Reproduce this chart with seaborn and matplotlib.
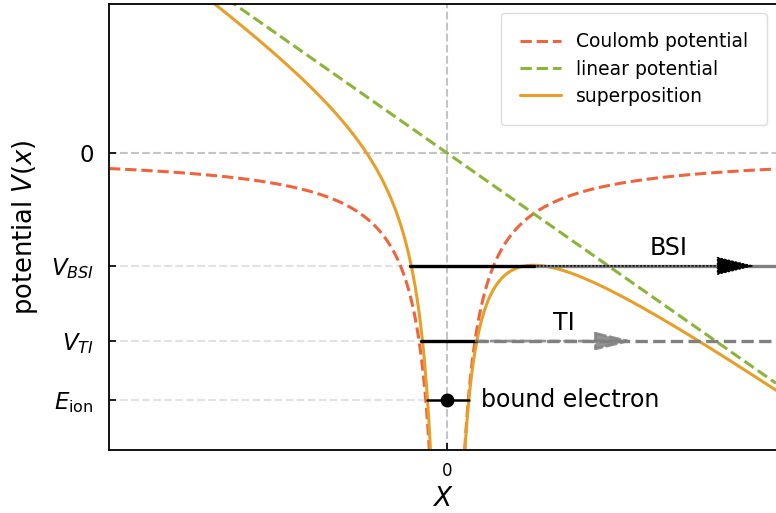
import numpy as np
import matplotlib
matplotlib.use("Agg")
import matplotlib.pyplot as plt
import seaborn as sns

sns.set_style("ticks")
plt.rcParams["font.family"] = ["DejaVu Sans"]
plt.rcParams["text.color"] = "black"
plt.rcParams["axes.labelcolor"] = "black"

# potential parameters
Z = 1.0        # charge of the core
F = 0.1        # field strength
V0 = 0.047     # shift of the combined potential

x_lim = (-12.34, 12.01)
y_lim = (-1.549, 0.777)

# energy levels and their tick labels
level_labels = ["0", r"$V_{BSI}$", r"$V_{TI}$", r"$E_{\mathrm{ion}}$"]
level_values = [0.0, -0.589, -0.981, -1.288]
V_BSI, V_TI, E_ion = level_values[1:]

# horizontal extents of the marked segments
bsi_segment = [-1.35, 3.16]
ti_segment = [-0.95, 1.06]
ion_segment = [-0.73, 0.80]
bsi_arrow_tip = 11.25
ti_arrow_tip = 6.8

c_coul = "#EE643C"
c_lin = "#8CB43A"
c_sup = "#E6A02A"

xl = np.linspace(x_lim[0], -0.02, 2000)
xr = np.linspace(0.02, x_lim[1], 2000)
xa = np.linspace(x_lim[0], x_lim[1], 200)

coulomb = lambda x: -Z / np.abs(x)
linear = lambda x: -F * x
superpos = lambda x: coulomb(x) + linear(x) + V0

fig = plt.figure(figsize=(7.76, 5.13), dpi=100)
ax = fig.add_axes([109 / 776, 63 / 513, 667 / 776, 446 / 513])

# reference axes through the origin
ax.axhline(0, color="#c4c4c4", ls="--", lw=1.5, zorder=0)
ax.axvline(0, color="#c4c4c4", ls="--", lw=1.5, zorder=0)

# guide lines from the axis to the levels
for v, xs in zip([V_BSI, V_TI, E_ion], [bsi_segment, ti_segment, ion_segment]):
    ax.plot([x_lim[0], xs[0]], [v, v], color="#e2e2e2", ls="--", lw=1.5, zorder=0)

sns.lineplot(x=xl, y=coulomb(xl), color=c_coul, ls="--", lw=2.2,
             label="Coulomb potential", ax=ax, sort=False, estimator=None)
sns.lineplot(x=xr, y=coulomb(xr), color=c_coul, ls="--", lw=2.2,
             ax=ax, sort=False, estimator=None)
sns.lineplot(x=xa, y=linear(xa), color=c_lin, ls="--", lw=2.2,
             label="linear potential", ax=ax, sort=False, estimator=None)
sns.lineplot(x=xl, y=superpos(xl), color=c_sup, lw=2.2,
             label="superposition", ax=ax, sort=False, estimator=None)
sns.lineplot(x=xr, y=superpos(xr), color=c_sup, lw=2.2,
             ax=ax, sort=False, estimator=None)

# barrier-suppression ionisation
ax.plot(bsi_segment, [V_BSI, V_BSI], color="black", lw=2.4, zorder=5)
ax.plot([bsi_segment[1], x_lim[1]], [V_BSI, V_BSI], color="gray", lw=2.4, zorder=4)
ax.annotate("", xy=(bsi_arrow_tip, V_BSI), xytext=(bsi_segment[1], V_BSI),
            arrowprops=dict(arrowstyle="-|>,head_length=1.25,head_width=0.3",
                            mutation_scale=20, color="black", lw=1, ls=":",
                            shrinkA=0, shrinkB=0), zorder=6)
ax.text(8.1, -0.496, "BSI", fontsize=17, ha="center", va="center")

# tunnel ionisation
ax.plot(ti_segment, [V_TI, V_TI], color="black", lw=2.4, zorder=5)
ax.plot([ti_segment[1], x_lim[1]], [V_TI, V_TI], color="gray", lw=2.4, ls="--", zorder=4)
ax.annotate("", xy=(ti_arrow_tip, V_TI), xytext=(ti_segment[1], V_TI),
            arrowprops=dict(arrowstyle="-|>,head_length=1.15,head_width=0.28",
                            mutation_scale=20, color="gray", lw=2, ls="--",
                            alpha=0.85, shrinkA=0, shrinkB=0), zorder=6)
ax.text(4.25, -0.887, "TI", fontsize=17, ha="center", va="center")

# bound electron
ax.plot(ion_segment, [E_ion, E_ion], color="black", lw=1.8, zorder=5)
ax.plot([0], [E_ion], "o", color="black", ms=9, zorder=6)
ax.text(1.24, E_ion, "bound electron", fontsize=17, ha="left", va="center")

ax.set_xlim(*x_lim)
ax.set_ylim(*y_lim)
ax.set_xticks([0])
ax.set_xticklabels(["0"], fontsize=12)
ax.set_yticks(level_values)
ax.set_yticklabels(level_labels, fontsize=16.5)
ax.tick_params(direction="in", length=5, width=1.2, colors="black")
ax.tick_params(axis="y", pad=11)
ax.tick_params(axis="x", pad=9)
ax.set_xlabel(r"$X$", fontsize=19, labelpad=4)
ax.set_ylabel(r"potential $V(x)$", fontsize=18.5, labelpad=8)

for side in ["left", "bottom", "top"]:
    ax.spines[side].set_visible(True)
    ax.spines[side].set_color("black")
    ax.spines[side].set_linewidth(1.3)
ax.spines["right"].set_visible(False)

leg = ax.legend(loc="upper right", fontsize=13.5, frameon=True, framealpha=1,
                edgecolor="#dddddd", borderpad=1.0, handlelength=2.2,
                labelspacing=0.45)
for t in leg.get_texts():
    t.set_color("black")

fig.savefig("out.png", dpi=100)
